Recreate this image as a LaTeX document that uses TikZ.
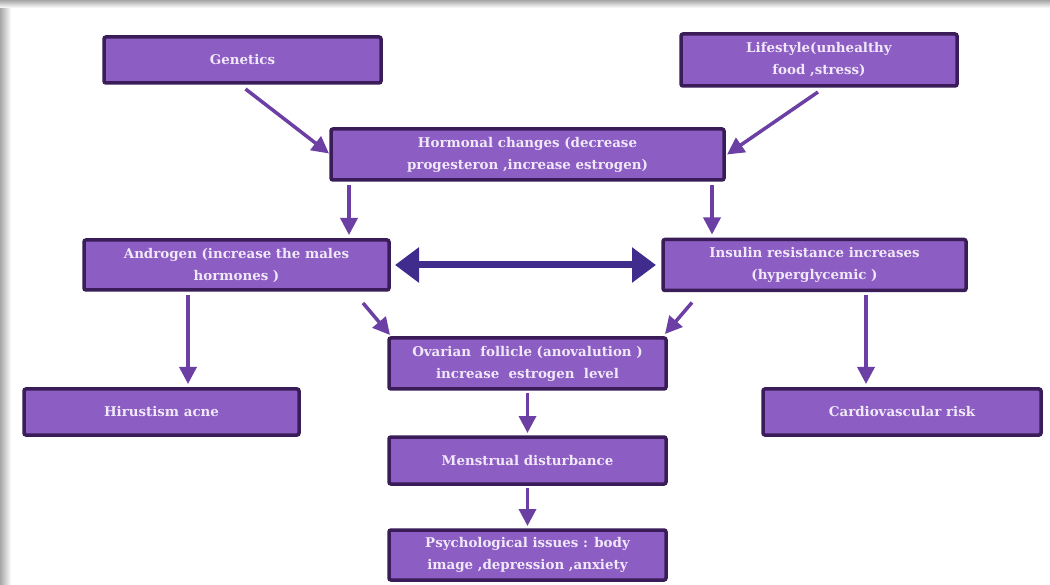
\documentclass[tikz,border=0pt]{standalone}
\usepackage{fontspec}
\setmainfont{DejaVu Serif}
\usetikzlibrary{arrows.meta,calc}
\definecolor{boxfill}{HTML}{8C5DC2}
\definecolor{boxedge}{HTML}{3A1D58}
\definecolor{txt}{HTML}{F0E8F8}
\definecolor{arr}{HTML}{6B3FA3}
\definecolor{darr}{HTML}{3F2C8C}
\begin{document}
\begin{tikzpicture}[x=1pt,y=-1pt,
  box/.style={draw=boxedge, fill=boxfill, line width=3.5pt, rounded corners=2pt,
    text=txt, font=\bfseries\fontsize{13.4}{22}\selectfont, align=center, inner sep=0pt,
    outer sep=0pt},
  conn/.style={draw=arr, line width=3.5pt, -{Triangle[length=17pt,width=17pt]}},
  dconn/.style={draw=darr, line width=7pt, line cap=butt, {Triangle[length=24pt,width=34pt]}-{Triangle[length=24pt,width=34pt]}}]
\useasboundingbox (0,0) rectangle (1050,585);
\fill[white] (0,0) rectangle (1050,585);
\shade[left color=gray!70, right color=white] (0,0) rectangle (11,585);
\shade[top color=gray!70, bottom color=white] (0,0) rectangle (1050,8);
\fill[white] (11,8) rectangle (1050,585);

\node[box, minimum width=277, minimum height=46] (gen) at (242.5,60) {Genetics};
\node[box, minimum width=276, minimum height=52] (life) at (819,60) {Lifestyle(unhealthy\\food ,stress)};
\node[box, minimum width=393, minimum height=51] (hor) at (527.5,154.5) {Hormonal changes (decrease\\progesteron ,increase estrogen)};
\node[box, minimum width=305, minimum height=50] (andr) at (236.5,265) {Androgen (increase the males\\hormones )};
\node[box, minimum width=303, minimum height=51] (ins) at (814.5,265) {Insulin resistance increases\\(hyperglycemic )};
\node[box, minimum width=277, minimum height=51] (ov) at (527.5,363.5) {Ovarian\ \ follicle (anovalution )\\increase\ \ estrogen\ \ level};
\node[box, minimum width=275, minimum height=46] (hir) at (161.5,412) {Hirustism acne};
\node[box, minimum width=278, minimum height=46] (car) at (902,412) {Cardiovascular risk};
\node[box, minimum width=277, minimum height=47] (men) at (527.5,460.5) {Menstrual disturbance};
\node[box, minimum width=277, minimum height=50] (psy) at (527.5,555) {Psychological issues : body\\image ,depression ,anxiety};

\draw[conn] ([shift={(3,6)}]gen.south) -- ([shift={(-2,-1)}]hor.west);
\draw[conn] ([shift={(-1,6)}]life.south) -- ([shift={(3,0)}]hor.east);
\draw[conn] ([shift={(-178.5,5)}]hor.south) -- ([shift={(112.5,-5)}]andr.north);
\draw[conn] ([shift={(184.5,5)}]hor.south) -- ([shift={(-102.5,-5)}]ins.north);
\draw[dconn] ([shift={(6,0)}]andr.east) -- ([shift={(-7,0)}]ins.west);
\draw[conn] ([shift={(-48.5,5)}]andr.south) -- ([shift={(26.5,-5)}]hir.north);
\draw[conn] ([shift={(51.5,5)}]ins.south) -- ([shift={(-36,-5)}]car.north);
\draw[conn] ([shift={(126.5,13)}]andr.south) -- ([shift={(1,-3)}]ov.north west);
\draw[conn] ([shift={(-122.5,12)}]ins.south) -- ([shift={(-1,-4)}]ov.north east);
\draw[conn] ([shift={(0,4)}]ov.south) -- ([shift={(0,-4)}]men.north);
\draw[conn] ([shift={(0,4)}]men.south) -- ([shift={(0,-4)}]psy.north);
\end{tikzpicture}
\end{document}
